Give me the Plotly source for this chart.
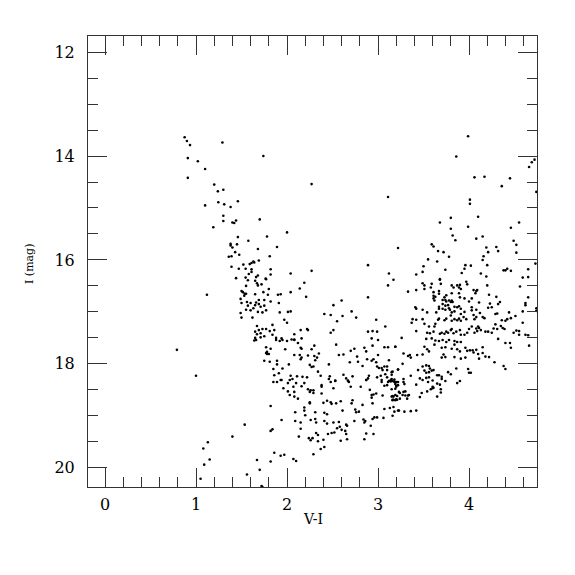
"""Colour-magnitude diagram, I vs V-I."""

import plotly.graph_objects as go

# (V-I, I) pairs, grouped by region of the diagram
blue_plume = [
    (0.875, 13.64), (0.90, 13.71), (0.934, 13.79), (1.29, 13.74), (0.91, 14.04),
    (1.02, 14.10), (1.10, 14.25), (0.91, 14.42), (1.20, 14.55), (1.24, 14.68),
    (1.30, 14.65), (1.10, 14.95), (1.245, 14.89), (1.31, 14.93), (1.38, 14.98),
    (1.46, 14.87), (1.30, 15.15), (1.30, 15.25), (1.40, 15.28), (1.42, 15.29),
    (1.44, 15.24), (1.19, 15.37), (1.46, 15.56), (1.38, 15.69), (1.38, 15.72),
    (1.40, 15.76), (1.45, 15.70), (1.43, 15.85), (1.475, 15.90), (1.36, 15.94),
    (1.39, 15.93),
]

scattered = [
    (1.74, 14.0), (1.70, 15.22), (2.0, 15.47), (2.27, 14.54), (3.11, 14.79),
    (3.99, 13.62), (3.86, 14.01), (4.72, 14.07), (4.69, 14.12), (4.66, 14.21),
    (4.06, 14.41), (4.17, 14.40), (4.45, 14.43), (4.36, 14.58), (4.74, 14.69),
    (4.01, 14.84), (4.01, 14.92), (4.10, 15.17), (3.80, 15.19), (3.68, 15.28),
    (4.55, 15.28), (0.79, 17.73), (1.0, 18.23), (1.12, 16.67),
]

blue_faint = [
    (1.535, 19.17), (1.40, 19.40), (1.13, 19.51), (1.08, 19.63), (1.15, 19.84),
    (1.09, 19.94), (1.56, 20.13), (1.05, 20.21), (1.72, 20.35), (1.70, 20.04),
    (1.67, 19.85), (1.73, 20.37), (1.82, 18.81), (1.82, 19.29), (1.84, 19.26),
    (1.86, 19.71), (1.82, 19.88), (1.93, 19.77), (1.97, 19.75), (2.07, 19.83),
    (2.10, 19.87),
]

blue_ridge = [
    (1.575, 15.63), (1.78, 15.55), (1.68, 15.79), (1.89, 15.75), (1.81, 15.93),
    (1.63, 16.03), (1.64, 16.05), (1.61, 16.06), (1.69, 16.01), (1.52, 16.09),
    (1.39, 16.13), (1.47, 16.17), (1.59, 16.08), (1.545, 16.17), (1.61, 16.18),
    (1.61, 16.23), (1.58, 16.27), (1.82, 16.18), (1.82, 16.28), (2.04, 16.26),
    (1.44, 16.35), (1.545, 16.34), (1.66, 16.33), (1.68, 16.30), (1.765, 16.36),
    (1.50, 16.60), (1.515, 16.62), (1.535, 16.65), (1.53, 16.69), (1.55, 16.65),
    (1.49, 16.75), (1.50, 16.83), (1.56, 16.81), (1.55, 16.96), (1.49, 17.02),
    (1.50, 17.11), (1.55, 16.50), (1.57, 16.39), (1.65, 16.40), (1.67, 16.45),
    (1.68, 16.49), (1.72, 16.47), (1.77, 16.37), (1.80, 16.56), (1.74, 16.62),
    (1.65, 16.66), (2.04, 16.62), (2.14, 16.55), (1.90, 16.67), (1.93, 16.66),
    (1.79, 16.67), (2.21, 16.71), (1.75, 16.77), (1.82, 16.80), (1.69, 16.77),
    (1.60, 16.83), (1.66, 16.82), (1.65, 16.87), (1.69, 16.85), (1.71, 16.90),
    (1.75, 16.88), (1.63, 16.93), (1.57, 16.88), (1.60, 16.97), (1.91, 16.83),
    (1.62, 17.11), (1.68, 17.0), (1.73, 17.01), (1.77, 16.97), (1.92, 17.01),
    (2.01, 17.0), (2.04, 16.99), (1.97, 17.15), (2.0, 17.21), (1.84, 17.25),
    (1.67, 17.27), (1.73, 17.33), (1.69, 17.35), (1.65, 17.38), (1.67, 17.43),
    (1.71, 17.41), (1.77, 17.33), (1.81, 17.37), (1.84, 17.44), (1.86, 17.35),
    (2.08, 17.43), (2.08, 17.53), (1.75, 17.47), (1.71, 17.49), (1.65, 17.50),
    (1.66, 17.54), (1.64, 17.55), (1.88, 17.50), (1.94, 17.51), (1.88, 17.54),
    (1.92, 17.56), (1.95, 17.54), (2.05, 17.53), (2.08, 17.54), (2.12, 17.60),
    (2.0, 17.56), (2.16, 17.51), (1.77, 17.68), (1.82, 17.71), (1.98, 17.72),
    (1.77, 17.79), (1.78, 17.81), (1.80, 17.81), (1.78, 17.77), (1.75, 17.94),
    (1.81, 17.96), (1.89, 17.94), (1.85, 18.10), (1.89, 18.01), (1.95, 18.09),
    (2.02, 18.01), (1.91, 18.18), (1.86, 18.22), (1.93, 18.31), (2.04, 18.23),
    (2.06, 18.29), (2.11, 18.24), (2.17, 18.25), (2.22, 18.26),
]

middle = [
    (2.19, 16.44), (2.89, 16.72), (2.51, 16.87), (2.60, 16.78), (2.41, 17.04),
    (2.48, 17.06), (2.61, 17.08), (2.71, 16.99), (2.76, 17.11), (2.55, 17.18),
    (2.98, 17.15), (3.08, 17.28), (2.15, 17.35), (2.22, 17.33), (2.23, 17.35),
    (2.51, 17.35), (2.48, 17.40), (2.89, 17.38), (2.94, 17.37), (2.99, 17.38),
    (2.93, 17.51), (2.30, 17.65), (3.0, 17.54), (2.54, 17.63), (2.70, 17.75),
    (2.74, 17.71), (2.77, 17.86), (2.85, 17.69), (2.87, 17.76), (2.94, 17.65),
    (3.07, 17.68), (3.11, 17.68), (3.19, 17.67), (2.15, 17.69), (2.16, 17.71),
    (2.27, 17.72), (2.08, 17.83), (2.14, 17.83), (2.16, 17.88), (2.23, 17.84),
    (2.30, 17.85), (2.35, 17.80), (2.57, 17.83), (2.62, 17.82), (2.69, 17.97),
    (2.31, 17.93), (2.33, 17.88), (2.15, 17.91), (2.46, 18.01), (2.78, 17.96),
    (2.83, 18.04), (2.88, 17.91), (2.93, 17.94), (2.95, 17.91), (2.98, 17.97),
    (3.0, 17.83), (2.99, 18.05), (3.01, 18.08), (3.04, 18.08), (3.05, 18.12),
    (3.07, 18.05), (3.10, 18.05), (3.12, 17.93), (3.10, 18.12), (3.16, 18.15),
    (3.22, 18.11), (3.08, 18.20), (3.15, 18.21), (2.25, 18.02), (2.27, 18.06),
    (2.29, 18.05), (2.34, 18.15), (2.37, 18.23), (2.38, 18.41), (2.47, 18.24),
    (2.46, 18.29), (2.53, 18.32), (2.62, 18.21), (2.65, 18.28), (2.67, 18.32),
    (2.72, 18.24), (2.87, 18.31), (2.89, 18.28), (2.90, 18.23), (2.99, 18.26),
    (3.03, 18.23), (3.04, 18.31), (3.10, 18.26), (3.12, 18.33), (3.14, 18.31),
    (3.16, 18.33), (3.19, 18.39), (3.22, 18.35),
]

faint_middle = [
    (1.94, 19.08), (2.09, 18.93), (2.09, 19.10), (2.13, 19.40), (2.15, 19.13),
    (2.15, 19.25), (2.19, 18.84), (2.19, 18.90), (2.20, 18.99), (2.25, 18.74),
    (2.25, 18.76), (2.26, 19.08), (2.31, 18.93), (2.31, 19.06), (2.32, 19.13),
    (2.24, 19.43), (2.26, 19.47), (2.28, 19.43), (2.29, 19.74), (2.32, 19.33),
    (2.34, 19.37), (2.34, 19.49), (2.37, 19.64), (2.41, 19.60), (2.40, 19.46),
    (2.41, 19.10), (2.44, 19.15), (2.41, 18.94), (2.44, 18.97), (2.40, 18.75),
    (2.44, 18.71), (2.45, 19.35), (2.49, 19.33), (2.48, 18.74), (2.51, 19.13),
    (2.49, 18.77), (2.54, 18.76), (2.55, 19.24), (2.52, 19.32), (2.59, 18.72),
    (2.57, 19.12), (2.58, 19.21), (2.59, 19.48), (2.61, 18.90), (2.60, 19.27),
    (2.65, 19.17), (2.66, 19.19), (2.64, 19.29), (2.65, 19.35), (2.66, 19.45),
    (2.71, 18.76), (2.72, 18.70), (2.75, 18.88), (2.76, 18.93), (2.79, 18.92),
    (2.74, 19.10), (2.84, 19.07), (2.86, 19.10), (2.85, 19.13), (2.83, 18.79),
    (2.85, 19.45), (2.87, 19.34), (2.95, 19.35), (2.92, 19.19), (2.94, 19.06),
    (2.96, 19.03), (2.99, 19.03), (2.93, 18.65), (2.94, 18.76), (2.98, 18.57),
    (2.95, 18.59), (3.05, 18.61), (3.06, 19.04), (3.07, 18.87), (3.16, 18.62),
    (3.16, 18.70), (3.17, 18.69), (3.20, 18.68), (3.22, 18.90), (3.16, 19.0),
    (3.17, 18.83), (1.85, 18.35), (1.89, 18.35), (1.94, 18.31), (2.01, 18.37),
    (2.03, 18.31), (2.07, 18.44), (1.96, 18.47), (2.01, 18.53), (2.03, 18.60),
    (2.08, 18.54), (2.08, 18.63), (2.10, 18.37), (2.16, 18.43), (2.19, 18.37),
    (2.12, 18.67), (2.23, 18.49), (2.25, 18.54), (2.29, 18.56), (2.26, 18.51),
    (2.29, 18.51), (2.38, 18.44), (2.38, 18.57), (2.48, 18.35), (2.53, 18.33),
    (2.51, 18.47), (2.67, 18.33), (2.68, 18.35), (2.70, 18.44), (2.81, 18.44),
    (2.87, 18.31), (2.91, 18.50), (2.93, 18.60), (3.04, 18.35), (3.07, 18.42),
    (3.10, 18.41), (3.11, 18.35), (3.14, 18.34), (3.18, 18.34), (3.20, 18.35),
    (3.20, 18.42), (3.22, 18.41), (3.19, 18.60), (3.21, 18.62),
]

red_upper = [
    (3.22, 15.77), (3.59, 15.70), (3.61, 15.74), (3.66, 15.83), (3.72, 15.85),
    (3.78, 15.94), (3.55, 15.99), (3.65, 16.03), (3.50, 16.12), (2.89, 16.10),
    (2.27, 16.21), (3.12, 16.26), (3.49, 16.23), (3.42, 16.28), (3.74, 16.19),
    (3.68, 16.37), (3.17, 16.38), (3.11, 16.49), (3.80, 15.40), (3.99, 15.36),
    (4.46, 15.38), (3.82, 15.53), (3.85, 15.62), (4.08, 15.59), (4.15, 15.55),
    (4.49, 15.63), (4.52, 15.71), (4.19, 15.76), (4.30, 15.75), (4.21, 15.85),
    (4.32, 15.83), (4.52, 15.86), (4.16, 15.93), (4.15, 16.0), (4.20, 16.10),
    (3.96, 16.10), (4.02, 16.11), (4.73, 16.07), (3.95, 16.17), (3.92, 16.25),
    (4.13, 16.26), (4.38, 16.20), (4.40, 16.20), (4.42, 16.17), (4.46, 16.21),
    (4.65, 16.18), (4.19, 16.32), (4.59, 16.34), (4.65, 16.33),
]

red_clump = [
    (3.49, 16.45), (3.51, 16.49), (3.59, 16.46), (3.58, 16.53), (3.68, 16.38),
    (3.69, 16.46), (3.81, 16.49), (3.83, 16.53), (3.87, 16.49), (3.90, 16.48),
    (3.89, 16.53), (3.91, 16.56), (3.97, 16.42), (3.98, 16.47), (4.20, 16.49),
    (4.56, 16.51), (3.33, 16.61), (3.42, 16.58), (3.51, 16.56), (3.61, 16.62),
    (3.61, 16.69), (3.63, 16.71), (3.67, 16.60), (3.67, 16.65), (3.75, 16.68),
    (3.73, 16.72), (3.81, 16.64), (3.89, 16.64), (4.05, 16.58), (4.08, 16.60),
    (4.09, 16.58), (4.07, 16.64), (4.22, 16.67), (4.30, 16.71), (4.65, 16.72),
    (3.61, 16.74), (3.62, 16.78), (3.71, 16.77), (3.74, 16.77), (3.75, 16.80),
    (3.78, 16.78), (3.80, 16.81), (3.81, 16.78), (3.82, 16.81), (3.90, 16.72),
    (3.95, 16.74), (4.03, 16.74), (4.0, 16.80), (4.11, 16.82), (4.23, 16.84),
    (4.32, 16.85), (4.34, 16.81), (4.62, 16.87), (4.62, 16.83), (3.41, 16.91),
    (3.42, 16.94), (3.49, 16.96), (3.54, 17.01), (3.64, 17.01), (3.67, 16.94),
    (3.67, 16.90), (3.71, 16.85), (3.74, 16.88), (3.71, 16.94), (3.74, 16.96),
    (3.77, 16.87), (3.78, 16.93), (3.79, 16.96), (3.80, 17.07), (3.81, 17.01),
    (3.84, 16.99), (3.84, 16.90), (3.87, 16.91), (3.89, 16.89), (3.91, 16.94),
    (3.91, 17.04), (3.95, 17.0), (4.03, 16.91), (4.03, 16.97), (4.08, 16.96),
    (4.12, 17.02), (4.21, 16.92), (4.25, 16.91), (4.31, 17.03), (4.29, 17.04),
    (4.44, 17.01), (4.51, 17.08), (4.59, 16.99), (4.74, 16.93), (4.74, 16.98),
    (3.37, 17.21), (3.38, 17.14), (3.42, 17.15), (3.49, 17.14), (3.51, 17.23),
    (3.63, 17.23), (3.66, 17.15), (3.67, 17.13), (3.73, 17.16), (3.75, 17.13),
    (3.81, 17.17), (3.84, 17.14), (3.87, 17.16), (3.89, 17.13), (3.91, 17.17),
    (3.94, 17.10), (3.97, 17.14), (4.05, 17.06), (4.06, 17.14), (4.08, 17.10),
    (4.15, 17.10), (4.17, 17.12), (4.29, 17.24), (4.36, 17.16), (4.40, 17.17),
    (4.42, 17.14), (4.46, 17.12), (4.59, 17.21),
]

red_lower = [
    (3.42, 17.37), (3.56, 17.28), (3.54, 17.40), (3.57, 17.41), (3.61, 17.38),
    (3.62, 17.28), (3.68, 17.42), (3.70, 17.40), (3.75, 17.38), (3.73, 17.42),
    (3.77, 17.40), (3.80, 17.35), (3.81, 17.33), (3.83, 17.41), (3.86, 17.38),
    (3.90, 17.35), (3.91, 17.44), (3.95, 17.44), (3.98, 17.40), (4.0, 17.33),
    (4.03, 17.28), (4.06, 17.40), (4.08, 17.32), (4.09, 17.37), (4.10, 17.28),
    (4.11, 17.31), (4.13, 17.35), (4.18, 17.38), (4.21, 17.38), (4.25, 17.40),
    (4.27, 17.32), (4.31, 17.33), (4.35, 17.27), (4.37, 17.31), (4.39, 17.33),
    (4.32, 17.52), (4.40, 17.60), (4.45, 17.60), (4.46, 17.69), (4.49, 17.40),
    (4.52, 17.36), (4.55, 17.37), (4.55, 17.44), (4.62, 17.44), (4.65, 17.45),
    (4.66, 17.65), (3.26, 17.50), (3.19, 17.67), (3.53, 17.52), (3.59, 17.51),
    (3.63, 17.55), (3.62, 17.63), (3.51, 17.67), (3.54, 17.72), (3.67, 17.56),
    (3.71, 17.54), (3.75, 17.58), (3.78, 17.54), (3.84, 17.56), (3.84, 17.63),
    (3.87, 17.58), (3.91, 17.58), (3.70, 17.69), (3.74, 17.68), (3.81, 17.71),
    (3.87, 17.72), (3.90, 17.76), (3.96, 17.69), (3.98, 17.75), (4.01, 17.74),
    (4.04, 17.74), (4.05, 17.78), (4.08, 17.73), (4.10, 17.81), (4.15, 17.79),
    (4.15, 17.68), (3.33, 17.85), (3.36, 17.88), (3.35, 17.83), (3.28, 17.80),
    (3.43, 17.83), (3.49, 17.82), (3.56, 17.76), (3.70, 17.88), (3.72, 17.82),
    (3.74, 17.87), (3.84, 17.87), (3.91, 17.90), (3.96, 17.88), (4.11, 17.90),
    (4.18, 17.86), (4.22, 17.87), (4.28, 17.97), (4.38, 18.04), (4.40, 18.10),
    (3.27, 18.0), (3.22, 18.11), (3.15, 18.16), (3.15, 18.29), (3.18, 18.30),
    (3.18, 18.35), (3.28, 18.29), (3.28, 18.35), (3.36, 18.23), (3.42, 18.40),
    (3.44, 18.12), (3.46, 18.28), (3.49, 18.31), (3.53, 18.27), (3.49, 18.05),
    (3.53, 18.03), (3.56, 18.04), (3.57, 18.09), (3.51, 18.13), (3.53, 18.17),
    (3.56, 18.16), (3.59, 18.13), (3.61, 18.12), (3.56, 18.26), (3.60, 18.32),
    (3.65, 18.22), (3.67, 18.22), (3.70, 18.25), (3.70, 18.29), (3.65, 18.38),
    (3.60, 18.44), (3.77, 18.16), (3.80, 18.20), (3.86, 18.09), (3.99, 18.10),
    (4.0, 18.17), (4.02, 18.17), (3.90, 18.33), (3.74, 18.33),
]

red_faint = [
    (3.29, 18.39), (3.55, 18.35), (3.68, 18.40), (3.87, 18.37), (3.15, 18.49),
    (3.19, 18.48), (3.20, 18.44), (3.23, 18.54), (3.24, 18.56), (3.27, 18.60),
    (3.28, 18.54), (3.30, 18.53), (3.30, 18.61), (3.33, 18.61), (3.34, 18.60),
    (3.32, 18.67), (3.15, 18.63), (3.17, 18.63), (3.16, 18.69), (3.19, 18.70),
    (3.21, 18.69), (3.24, 18.67), (3.13, 18.85), (3.18, 18.92), (3.23, 18.90),
    (3.29, 18.92), (3.36, 18.91), (3.42, 18.90), (3.46, 18.64), (3.48, 18.56),
    (3.54, 18.53), (3.58, 18.49), (3.60, 18.47), (3.61, 18.46), (3.65, 18.63),
    (3.69, 18.49), (3.69, 18.55),
]

groups = [blue_plume, scattered, blue_faint, blue_ridge, middle,
          faint_middle, red_upper, red_clump, red_lower, red_faint]
v_i = [p[0] for g in groups for p in g]
i_mag = [p[1] for g in groups for p in g]

FONT = "DejaVu Serif"

fig = go.Figure()
fig.add_trace(go.Scatter(
    x=v_i, y=i_mag, mode="markers",
    marker=dict(color="black", size=2.6, line=dict(width=0)),
    hoverinfo="skip",
))

axis_common = dict(
    showgrid=False, zeroline=False,
    showline=True, linecolor="#333", linewidth=1, mirror="allticks",
    ticks="inside", ticklen=19, tickcolor="#333", tickwidth=1,
    tickfont=dict(family=FONT, size=16, color="black"),
)

fig.update_xaxes(
    range=[-0.187, 4.747], tick0=0, dtick=1, ticklabelstandoff=3,
    minor=dict(dtick=0.2, ticks="inside", ticklen=10, tickcolor="#333"),
    **axis_common,
)
fig.update_yaxes(
    range=[20.37, 11.69], tick0=12, dtick=2, ticklabelstandoff=9,
    minor=dict(dtick=0.5, ticks="inside", ticklen=10, tickcolor="#333"),
    **axis_common,
)

# the page body adds an 8px margin, so the figure is drawn 16px smaller
fig.update_layout(
    width=559, height=559,
    margin=dict(l=80, r=30, t=28, b=80),
    plot_bgcolor="white", paper_bgcolor="white",
    showlegend=False,
    annotations=[
        dict(text="V-I", xref="paper", yref="paper", x=0.5, y=0,
             xanchor="center", yanchor="top", yshift=-22, showarrow=False,
             font=dict(family=FONT, size=14, color="black")),
        dict(text="I (mag)", xref="paper", yref="paper", x=0, y=0.5,
             xanchor="right", yanchor="middle", xshift=-50, yshift=-3,
             textangle=-90, showarrow=False,
             font=dict(family=FONT, size=11, color="black")),
    ],
)

fig.write_html("out.html")
